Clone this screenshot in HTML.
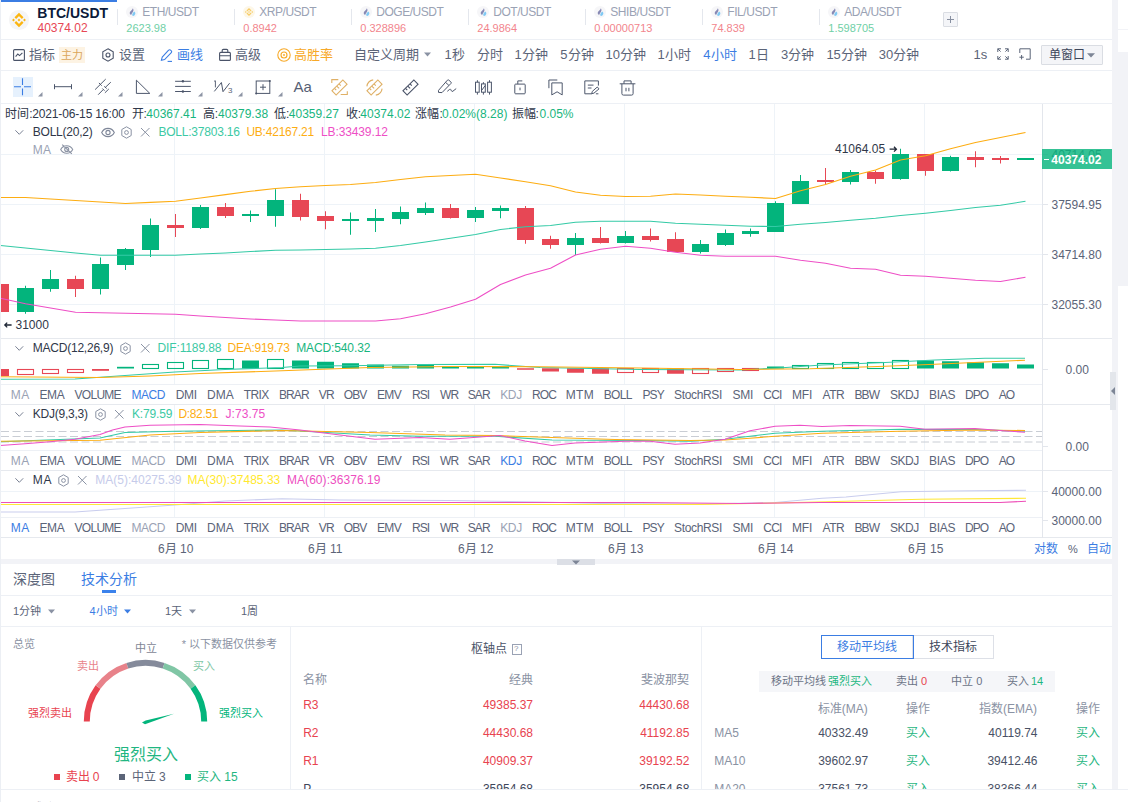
<!DOCTYPE html>
<html lang="zh-CN">
<head>
<meta charset="utf-8">
<title>BTC/USDT</title>
<style>
html,body{margin:0;padding:0;}
body{width:1128px;height:802px;overflow:hidden;position:relative;background:#f2f3f7;font-family:"Liberation Sans",sans-serif;}
.t{position:absolute;white-space:nowrap;}
.r{position:absolute;}
.i{position:absolute;overflow:visible;}
svg{display:block;}
</style>
</head>
<body>
<div class="r" style="left:0px;top:0px;width:1112px;height:559px;background:#fff;"></div>
<div class="r" style="left:0px;top:564px;width:1112px;height:225px;background:#fff;"></div>
<div class="r" style="left:0px;top:792px;width:1112px;height:10px;background:#fff;"></div>
<div class="r" style="left:0px;top:0px;width:1px;height:802px;background:#eceff4;"></div>
<div class="r" style="left:1118px;top:0px;width:10px;height:29px;background:#fff;"></div>
<div class="r" style="left:1118px;top:30px;width:10px;height:22px;background:#fff;"></div>
<div class="r" style="left:1118px;top:286px;width:10px;height:516px;background:#fff;"></div>
<svg class="i" style="left:0px;top:0px;" width="1112" height="559" viewBox="0 0 1112 559"><rect x="174" y="104" width="1" height="434" fill="#eef3f8"/><rect x="324" y="104" width="1" height="434" fill="#eef3f8"/><rect x="474" y="104" width="1" height="434" fill="#eef3f8"/><rect x="624" y="104" width="1" height="434" fill="#eef3f8"/><rect x="774" y="104" width="1" height="434" fill="#eef3f8"/><rect x="924" y="104" width="1" height="434" fill="#eef3f8"/><rect x="1" y="154" width="1047" height="1" fill="#eef3f8"/><rect x="1" y="204" width="1047" height="1" fill="#eef3f8"/><rect x="1" y="254" width="1047" height="1" fill="#eef3f8"/><rect x="1" y="304" width="1047" height="1" fill="#eef3f8"/><rect x="1" y="491" width="1047" height="1" fill="#eef3f8"/><rect x="1042" y="104" width="1" height="434" fill="#e3e6ec"/><rect x="0" y="284.25" width="1" height="27.75" fill="#e74755"/><rect x="-8" y="284" width="17" height="28" fill="#e74755"/><rect x="25" y="285.75" width="1" height="28.0" fill="#03b47c"/><rect x="17" y="288" width="17" height="24" fill="#03b47c"/><rect x="50" y="270" width="1" height="21.75" fill="#03b47c"/><rect x="42" y="279" width="17" height="10" fill="#03b47c"/><rect x="75" y="275.75" width="1" height="21.25" fill="#e74755"/><rect x="67" y="279" width="17" height="10" fill="#e74755"/><rect x="100" y="257.5" width="1" height="37.0" fill="#03b47c"/><rect x="92" y="264" width="17" height="25" fill="#03b47c"/><rect x="125" y="248" width="1" height="22" fill="#03b47c"/><rect x="117" y="249" width="17" height="16" fill="#03b47c"/><rect x="150" y="218.5" width="1" height="38.5" fill="#03b47c"/><rect x="142" y="225" width="17" height="25" fill="#03b47c"/><rect x="175" y="214" width="1" height="23" fill="#e74755"/><rect x="167" y="225" width="17" height="3" fill="#e74755"/><rect x="200" y="205" width="1" height="24" fill="#03b47c"/><rect x="192" y="207" width="17" height="21" fill="#03b47c"/><rect x="225" y="203" width="1" height="15" fill="#e74755"/><rect x="217" y="207" width="17" height="9" fill="#e74755"/><rect x="250" y="210.5" width="1" height="11.5" fill="#03b47c"/><rect x="242" y="214" width="17" height="2" fill="#03b47c"/><rect x="275" y="189.25" width="1" height="37.5" fill="#03b47c"/><rect x="267" y="200" width="17" height="16" fill="#03b47c"/><rect x="300" y="193.75" width="1" height="26.75" fill="#e74755"/><rect x="292" y="200" width="17" height="17" fill="#e74755"/><rect x="325" y="211.25" width="1" height="18.0" fill="#e74755"/><rect x="317" y="216" width="17" height="5" fill="#e74755"/><rect x="350" y="212.5" width="1" height="22.25" fill="#03b47c"/><rect x="342" y="219" width="17" height="2" fill="#03b47c"/><rect x="375" y="209" width="1" height="23" fill="#03b47c"/><rect x="367" y="218" width="17" height="3" fill="#03b47c"/><rect x="400" y="206.5" width="1" height="17.75" fill="#03b47c"/><rect x="392" y="212" width="17" height="7" fill="#03b47c"/><rect x="425" y="202.5" width="1" height="12.5" fill="#03b47c"/><rect x="417" y="208" width="17" height="5" fill="#03b47c"/><rect x="450" y="204" width="1" height="14.5" fill="#e74755"/><rect x="442" y="208" width="17" height="10" fill="#e74755"/><rect x="475" y="207" width="1" height="15" fill="#03b47c"/><rect x="467" y="210" width="17" height="8" fill="#03b47c"/><rect x="500" y="205.5" width="1" height="12.75" fill="#03b47c"/><rect x="492" y="208" width="17" height="3" fill="#03b47c"/><rect x="525" y="206" width="1" height="37.75" fill="#e74755"/><rect x="517" y="208" width="17" height="32" fill="#e74755"/><rect x="550" y="235.75" width="1" height="13.0" fill="#e74755"/><rect x="542" y="239" width="17" height="6" fill="#e74755"/><rect x="575" y="233" width="1" height="22" fill="#03b47c"/><rect x="567" y="238" width="17" height="7" fill="#03b47c"/><rect x="600" y="227" width="1" height="16.5" fill="#e74755"/><rect x="592" y="238" width="17" height="5" fill="#e74755"/><rect x="625" y="231" width="1" height="12.5" fill="#03b47c"/><rect x="617" y="236" width="17" height="7" fill="#03b47c"/><rect x="650" y="228.5" width="1" height="13.0" fill="#e74755"/><rect x="642" y="236" width="17" height="4" fill="#e74755"/><rect x="675" y="232.25" width="1" height="19.75" fill="#e74755"/><rect x="667" y="239" width="17" height="13" fill="#e74755"/><rect x="700" y="240" width="1" height="13.5" fill="#03b47c"/><rect x="692" y="244" width="17" height="8" fill="#03b47c"/><rect x="725" y="229.5" width="1" height="16.5" fill="#03b47c"/><rect x="717" y="233" width="17" height="12" fill="#03b47c"/><rect x="750" y="228.5" width="1" height="8.25" fill="#03b47c"/><rect x="742" y="231" width="17" height="3" fill="#03b47c"/><rect x="775" y="201.25" width="1" height="30.75" fill="#03b47c"/><rect x="767" y="203" width="17" height="29" fill="#03b47c"/><rect x="800" y="175" width="1" height="29" fill="#03b47c"/><rect x="792" y="181" width="17" height="23" fill="#03b47c"/><rect x="825" y="168" width="1" height="16.5" fill="#e74755"/><rect x="817" y="180" width="17" height="2" fill="#e74755"/><rect x="850" y="170" width="1" height="14.5" fill="#03b47c"/><rect x="842" y="172" width="17" height="10" fill="#03b47c"/><rect x="875" y="170.5" width="1" height="13.25" fill="#e74755"/><rect x="867" y="172" width="17" height="7" fill="#e74755"/><rect x="900" y="148.75" width="1" height="31.0" fill="#03b47c"/><rect x="892" y="154" width="17" height="25" fill="#03b47c"/><rect x="925" y="154" width="1" height="21.75" fill="#e74755"/><rect x="917" y="154" width="17" height="17" fill="#e74755"/><rect x="950" y="155.75" width="1" height="15.75" fill="#03b47c"/><rect x="942" y="157" width="17" height="14" fill="#03b47c"/><rect x="975" y="151.25" width="1" height="16.0" fill="#e74755"/><rect x="967" y="157" width="17" height="3" fill="#e74755"/><rect x="1000" y="156" width="1" height="7.5" fill="#e74755"/><rect x="992" y="158" width="17" height="2" fill="#e74755"/><rect x="1025" y="158" width="1" height="2" fill="#03b47c"/><rect x="1017" y="158" width="17" height="2" fill="#03b47c"/><polyline points="0.5,197.50 25.5,197.50 50.5,199.00 75.5,200.50 100.5,202.00 125.5,203.50 150.5,202.40 175.5,201.25 200.5,198.00 225.5,194.60 250.5,191.30 275.5,188.50 300.5,186.75 325.5,185.50 350.5,184.50 375.5,182.50 400.5,179.50 425.5,176.75 450.5,175.50 475.5,174.25 500.5,178.00 525.5,181.75 550.5,185.75 575.5,192.00 600.5,195.25 625.5,196.50 650.5,196.25 675.5,194.00 700.5,195.00 725.5,196.25 750.5,197.25 775.5,198.50 800.5,190.75 825.5,184.50 850.5,176.25 875.5,170.00 900.5,160.00 925.5,155.75 950.5,148.75 975.5,142.50 1000.5,137.50 1025.5,132.50" fill="none" stroke="#fdad12" stroke-width="1.1" stroke-linejoin="round" opacity="1"/><polyline points="0.5,245.50 25.5,248.00 50.5,250.50 75.5,253.00 100.5,255.25 125.5,255.25 150.5,255.25 175.5,255.25 200.5,254.00 225.5,253.00 250.5,251.50 275.5,250.25 300.5,250.00 325.5,249.50 350.5,249.00 375.5,248.25 400.5,245.50 425.5,242.00 450.5,238.25 475.5,234.50 500.5,229.50 525.5,226.75 550.5,225.50 575.5,222.25 600.5,221.25 625.5,221.25 650.5,221.25 675.5,223.25 700.5,224.25 725.5,225.25 750.5,226.25 775.5,226.50 800.5,224.25 825.5,222.50 850.5,220.25 875.5,218.25 900.5,215.50 925.5,213.25 950.5,210.50 975.5,207.50 1000.5,205.25 1025.5,201.25" fill="none" stroke="#34caa6" stroke-width="1.1" stroke-linejoin="round" opacity="1"/><polyline points="0.5,298.25 25.5,303.75 50.5,308.00 75.5,312.25 100.5,312.75 125.5,313.25 150.5,313.75 175.5,314.25 200.5,316.00 225.5,317.50 250.5,319.00 275.5,320.00 300.5,321.00 325.5,321.00 350.5,321.00 375.5,321.00 400.5,318.75 425.5,313.75 450.5,307.00 475.5,299.25 500.5,284.50 525.5,275.00 550.5,268.25 575.5,255.00 600.5,249.25 625.5,246.25 650.5,248.25 675.5,252.25 700.5,255.25 725.5,256.25 750.5,256.25 775.5,256.25 800.5,260.25 825.5,263.25 850.5,268.25 875.5,269.25 900.5,275.25 925.5,276.25 950.5,278.25 975.5,280.25 1000.5,281.50 1025.5,277.25" fill="none" stroke="#ee4fc6" stroke-width="1.1" stroke-linejoin="round" opacity="1"/><rect x="-8" y="369" width="17" height="7" fill="#e74755"/><rect x="17.5" y="369.5" width="16" height="5" fill="none" stroke="#e74755" stroke-width="1.1"/><rect x="42.5" y="369.5" width="16" height="4" fill="none" stroke="#e74755" stroke-width="1.1"/><rect x="67.5" y="369.5" width="16" height="3" fill="none" stroke="#e74755" stroke-width="1.1"/><rect x="92" y="369" width="17" height="1.8000000000000114" fill="#e74755"/><rect x="117" y="366.8" width="17" height="1.6999999999999886" fill="#03b47c"/><rect x="142.5" y="364.5" width="16" height="4" fill="none" stroke="#03b47c" stroke-width="1.1"/><rect x="167.5" y="362.5" width="16" height="6" fill="none" stroke="#03b47c" stroke-width="1.1"/><rect x="192.5" y="360.5" width="16" height="8" fill="none" stroke="#03b47c" stroke-width="1.1"/><rect x="217.5" y="359.5" width="16" height="9" fill="none" stroke="#03b47c" stroke-width="1.1"/><rect x="242" y="360.5" width="17" height="8.0" fill="#03b47c"/><rect x="267.5" y="359.5" width="16" height="9" fill="none" stroke="#03b47c" stroke-width="1.1"/><rect x="292" y="360.5" width="17" height="8.0" fill="#03b47c"/><rect x="317" y="361.75" width="17" height="6.75" fill="#03b47c"/><rect x="342" y="363.25" width="17" height="5.25" fill="#03b47c"/><rect x="367" y="364.5" width="17" height="4.0" fill="#03b47c"/><rect x="392" y="365.75" width="17" height="2.75" fill="#03b47c"/><rect x="417" y="365" width="17" height="3.5" fill="#03b47c"/><rect x="442" y="366.25" width="17" height="2.25" fill="#03b47c"/><rect x="467" y="366.5" width="17" height="2.0" fill="#03b47c"/><rect x="492" y="367" width="17" height="1.5" fill="#03b47c"/><rect x="517" y="368.25" width="17" height="1.5" fill="#e74755"/><rect x="542" y="368.25" width="17" height="3.25" fill="#e74755"/><rect x="567" y="368.25" width="17" height="4.5" fill="#e74755"/><rect x="592" y="368.25" width="17" height="5.5" fill="#e74755"/><rect x="617.5" y="368.5" width="16" height="4" fill="none" stroke="#e74755" stroke-width="1.1"/><rect x="642.5" y="368.5" width="16" height="4" fill="none" stroke="#e74755" stroke-width="1.1"/><rect x="667" y="368.25" width="17" height="5.5" fill="#e74755"/><rect x="692.5" y="368.5" width="16" height="5" fill="none" stroke="#e74755" stroke-width="1.1"/><rect x="717.5" y="368.5" width="16" height="3" fill="none" stroke="#e74755" stroke-width="1.1"/><rect x="742.5" y="368.5" width="16" height="2" fill="none" stroke="#e74755" stroke-width="1.1"/><rect x="767" y="366.5" width="17" height="2.0" fill="#03b47c"/><rect x="792.5" y="365.5" width="16" height="3" fill="none" stroke="#03b47c" stroke-width="1.1"/><rect x="817.5" y="363.5" width="16" height="5" fill="none" stroke="#03b47c" stroke-width="1.1"/><rect x="842.5" y="362.5" width="16" height="6" fill="none" stroke="#03b47c" stroke-width="1.1"/><rect x="867.5" y="362.5" width="16" height="6" fill="none" stroke="#03b47c" stroke-width="1.1"/><rect x="892.5" y="360.5" width="16" height="8" fill="none" stroke="#03b47c" stroke-width="1.1"/><rect x="917" y="360.5" width="17" height="8.0" fill="#03b47c"/><rect x="942" y="361.25" width="17" height="7.25" fill="#03b47c"/><rect x="967" y="362.25" width="17" height="6.25" fill="#03b47c"/><rect x="992" y="363.25" width="17" height="5.25" fill="#03b47c"/><rect x="1017" y="364.5" width="17" height="4.0" fill="#03b47c"/><polyline points="0.0,379.25 75.0,379.00 125.0,375.50 175.0,372.00 225.0,369.50 282.0,367.50 300.0,366.00 350.0,365.75 420.0,364.50 495.0,364.25 540.0,367.50 640.0,369.50 740.0,370.00 775.0,368.25 822.0,365.00 885.0,362.50 935.0,360.00 985.0,358.25 1025.0,358.25" fill="none" stroke="#34caa6" stroke-width="1.1" stroke-linejoin="round" opacity="1"/><polyline points="0.0,376.75 100.0,377.50 150.0,376.00 200.0,373.50 282.0,370.75 370.0,367.50 450.0,366.50 540.0,366.75 640.0,368.00 740.0,369.50 810.0,368.75 885.0,366.25 935.0,364.25 985.0,362.00 1025.0,360.25" fill="none" stroke="#fdad12" stroke-width="1.1" stroke-linejoin="round" opacity="1"/><line x1="1" y1="431.5" x2="1042" y2="431.5" stroke="#c9cdd4" stroke-width="1" stroke-dasharray="8 3.5"/><line x1="1" y1="436.5" x2="1042" y2="436.5" stroke="#c9cdd4" stroke-width="1" stroke-dasharray="8 3.5"/><line x1="1" y1="442" x2="1042" y2="442" stroke="#c9cdd4" stroke-width="1" stroke-dasharray="8 3.5"/><polyline points="0.0,441.75 100.0,438.00 125.0,432.50 175.0,431.25 282.0,430.00 300.0,431.00 370.0,435.00 420.0,436.25 495.0,436.25 552.0,440.00 640.0,440.50 690.0,441.25 725.0,439.25 750.0,436.25 775.0,433.25 822.0,431.25 900.0,429.25 975.0,429.50 1025.0,431.25" fill="none" stroke="#34caa6" stroke-width="1.1" stroke-linejoin="round" opacity="1"/><polyline points="0.0,441.25 100.0,440.25 150.0,435.00 200.0,432.50 282.0,430.50 370.0,432.50 445.0,435.00 495.0,435.50 552.0,437.50 615.0,439.50 690.0,440.50 725.0,440.00 750.0,438.25 775.0,436.25 822.0,433.25 900.0,431.25 975.0,430.00 1025.0,430.50" fill="none" stroke="#fdad12" stroke-width="1.1" stroke-linejoin="round" opacity="1"/><polyline points="0.0,445.50 25.0,443.75 50.0,441.75 75.0,439.25 100.0,434.50 112.5,430.00 125.0,427.00 150.0,425.25 200.0,424.50 240.0,426.00 270.0,427.00 300.0,430.00 340.0,435.00 375.0,439.25 420.0,437.50 450.0,439.25 500.0,435.50 525.0,441.00 552.0,445.50 575.0,443.00 625.0,441.25 650.0,441.25 675.0,444.25 700.0,443.00 725.0,439.25 750.0,430.75 775.0,426.25 800.0,425.25 822.0,426.50 850.0,425.50 900.0,426.25 925.0,429.25 975.0,428.50 1000.0,430.50 1025.0,432.25" fill="none" stroke="#ee4fc6" stroke-width="1.1" stroke-linejoin="round" opacity="1"/><polyline points="0.0,512.00 75.0,512.00 125.0,508.50 175.0,505.00 225.0,501.00 282.0,498.75 340.0,500.00 450.0,500.50 540.0,502.00 600.0,503.50 700.0,504.00 775.0,502.50 822.0,498.25 846.0,497.00 901.0,491.75 950.0,491.00 1026.0,490.25" fill="none" stroke="#c9cdee" stroke-width="1.1" stroke-linejoin="round" opacity="1"/><polyline points="0.0,504.50 700.0,504.50 775.0,503.00 846.0,501.25 921.0,499.25 1026.0,498.25" fill="none" stroke="#ffe838" stroke-width="1.15" stroke-linejoin="round" opacity="1"/><polyline points="0.0,502.50 640.0,502.50 740.0,503.50 820.0,502.50 1000.0,502.50 1026.0,501.25" fill="none" stroke="#ee4fb8" stroke-width="1.15" stroke-linejoin="round" opacity="1"/><rect x="1043" y="154" width="5" height="1" fill="#e3e6ec"/><rect x="1043" y="204" width="5" height="1" fill="#e3e6ec"/><rect x="1043" y="254" width="5" height="1" fill="#e3e6ec"/><rect x="1043" y="304" width="5" height="1" fill="#e3e6ec"/><rect x="1043" y="369" width="5" height="1" fill="#e3e6ec"/><rect x="1043" y="446" width="5" height="1" fill="#e3e6ec"/><rect x="1043" y="491" width="5" height="1" fill="#e3e6ec"/><rect x="1043" y="520" width="5" height="1" fill="#e3e6ec"/></svg>
<div class="r" style="left:1px;top:338px;width:1111px;height:1px;background:#e6e9ee;"></div>
<div class="r" style="left:1px;top:384px;width:1042px;height:21px;background:#fff;"></div>
<div class="r" style="left:1px;top:384px;width:1042px;height:1px;background:#edf0f5;"></div>
<div class="r" style="left:1px;top:404px;width:1111px;height:1px;background:#e6e9ee;"></div>
<div class="r" style="left:1px;top:450px;width:1042px;height:21px;background:#fff;"></div>
<div class="r" style="left:1px;top:450px;width:1042px;height:1px;background:#edf0f5;"></div>
<div class="r" style="left:1px;top:470px;width:1111px;height:1px;background:#e6e9ee;"></div>
<div class="r" style="left:1px;top:517px;width:1042px;height:21px;background:#fff;"></div>
<div class="r" style="left:1px;top:517px;width:1042px;height:1px;background:#edf0f5;"></div>
<div class="r" style="left:1px;top:537px;width:1111px;height:1px;background:#e6e9ee;"></div>
<div class="r" style="left:1043px;top:385px;width:69px;height:19px;background:#fff;"></div>
<div class="r" style="left:1043px;top:451px;width:69px;height:19px;background:#fff;"></div>
<div class="r" style="left:1042px;top:384px;width:1px;height:154px;background:#e3e6ec;"></div>
<div class="t" style="top:387.00px;height:16px;line-height:16px;font-size:12px;color:#9aa2b4;left:10.75px;letter-spacing:0.40px;">MA</div>
<div class="t" style="top:387.00px;height:16px;line-height:16px;font-size:12px;color:#5b6478;left:39.50px;letter-spacing:-0.43px;">EMA</div>
<div class="t" style="top:387.00px;height:16px;line-height:16px;font-size:12px;color:#5b6478;left:74.50px;letter-spacing:-0.71px;">VOLUME</div>
<div class="t" style="top:387.00px;height:16px;line-height:16px;font-size:12px;color:#3b7de3;left:131.50px;letter-spacing:-0.48px;">MACD</div>
<div class="t" style="top:387.00px;height:16px;line-height:16px;font-size:12px;color:#5b6478;left:175.75px;letter-spacing:-0.30px;">DMI</div>
<div class="t" style="top:387.00px;height:16px;line-height:16px;font-size:12px;color:#5b6478;left:207.00px;">DMA</div>
<div class="t" style="top:387.00px;height:16px;line-height:16px;font-size:12px;color:#5b6478;left:243.75px;letter-spacing:-0.64px;">TRIX</div>
<div class="t" style="top:387.00px;height:16px;line-height:16px;font-size:12px;color:#5b6478;left:279.00px;letter-spacing:-0.90px;">BRAR</div>
<div class="t" style="top:387.00px;height:16px;line-height:16px;font-size:12px;color:#5b6478;left:318.75px;letter-spacing:-0.77px;">VR</div>
<div class="t" style="top:387.00px;height:16px;line-height:16px;font-size:12px;color:#5b6478;left:343.75px;letter-spacing:-0.90px;">OBV</div>
<div class="t" style="top:387.00px;height:16px;line-height:16px;font-size:12px;color:#5b6478;left:377.00px;letter-spacing:-0.68px;">EMV</div>
<div class="t" style="top:387.00px;height:16px;line-height:16px;font-size:12px;color:#5b6478;left:412.00px;letter-spacing:-0.90px;">RSI</div>
<div class="t" style="top:387.00px;height:16px;line-height:16px;font-size:12px;color:#5b6478;left:440.00px;letter-spacing:-0.90px;">WR</div>
<div class="t" style="top:387.00px;height:16px;line-height:16px;font-size:12px;color:#5b6478;left:467.75px;letter-spacing:-0.90px;">SAR</div>
<div class="t" style="top:387.00px;height:16px;line-height:16px;font-size:12px;color:#9aa2b4;left:500.25px;letter-spacing:-0.38px;">KDJ</div>
<div class="t" style="top:387.00px;height:16px;line-height:16px;font-size:12px;color:#5b6478;left:532.00px;letter-spacing:-0.90px;">ROC</div>
<div class="t" style="top:387.00px;height:16px;line-height:16px;font-size:12px;color:#5b6478;left:565.75px;letter-spacing:0.29px;">MTM</div>
<div class="t" style="top:387.00px;height:16px;line-height:16px;font-size:12px;color:#5b6478;left:603.75px;letter-spacing:-0.68px;">BOLL</div>
<div class="t" style="top:387.00px;height:16px;line-height:16px;font-size:12px;color:#5b6478;left:642.50px;letter-spacing:-0.90px;">PSY</div>
<div class="t" style="top:387.00px;height:16px;line-height:16px;font-size:12px;color:#5b6478;left:674.00px;letter-spacing:-0.33px;">StochRSI</div>
<div class="t" style="top:387.00px;height:16px;line-height:16px;font-size:12px;color:#5b6478;left:732.50px;letter-spacing:-0.22px;">SMI</div>
<div class="t" style="top:387.00px;height:16px;line-height:16px;font-size:12px;color:#5b6478;left:763.25px;letter-spacing:-0.76px;">CCI</div>
<div class="t" style="top:387.00px;height:16px;line-height:16px;font-size:12px;color:#5b6478;left:792.00px;letter-spacing:-0.13px;">MFI</div>
<div class="t" style="top:387.00px;height:16px;line-height:16px;font-size:12px;color:#5b6478;left:822.50px;letter-spacing:-0.48px;">ATR</div>
<div class="t" style="top:387.00px;height:16px;line-height:16px;font-size:12px;color:#5b6478;left:854.50px;letter-spacing:-0.90px;">BBW</div>
<div class="t" style="top:387.00px;height:16px;line-height:16px;font-size:12px;color:#5b6478;left:890.00px;letter-spacing:-0.51px;">SKDJ</div>
<div class="t" style="top:387.00px;height:16px;line-height:16px;font-size:12px;color:#5b6478;left:929.00px;letter-spacing:-0.32px;">BIAS</div>
<div class="t" style="top:387.00px;height:16px;line-height:16px;font-size:12px;color:#5b6478;left:965.00px;letter-spacing:-0.90px;">DPO</div>
<div class="t" style="top:387.00px;height:16px;line-height:16px;font-size:12px;color:#5b6478;left:998.75px;letter-spacing:-0.90px;">AO</div>
<div class="t" style="top:453.00px;height:16px;line-height:16px;font-size:12px;color:#9aa2b4;left:10.75px;letter-spacing:0.40px;">MA</div>
<div class="t" style="top:453.00px;height:16px;line-height:16px;font-size:12px;color:#5b6478;left:39.50px;letter-spacing:-0.43px;">EMA</div>
<div class="t" style="top:453.00px;height:16px;line-height:16px;font-size:12px;color:#5b6478;left:74.50px;letter-spacing:-0.71px;">VOLUME</div>
<div class="t" style="top:453.00px;height:16px;line-height:16px;font-size:12px;color:#9aa2b4;left:131.50px;letter-spacing:-0.48px;">MACD</div>
<div class="t" style="top:453.00px;height:16px;line-height:16px;font-size:12px;color:#5b6478;left:175.75px;letter-spacing:-0.30px;">DMI</div>
<div class="t" style="top:453.00px;height:16px;line-height:16px;font-size:12px;color:#5b6478;left:207.00px;">DMA</div>
<div class="t" style="top:453.00px;height:16px;line-height:16px;font-size:12px;color:#5b6478;left:243.75px;letter-spacing:-0.64px;">TRIX</div>
<div class="t" style="top:453.00px;height:16px;line-height:16px;font-size:12px;color:#5b6478;left:279.00px;letter-spacing:-0.90px;">BRAR</div>
<div class="t" style="top:453.00px;height:16px;line-height:16px;font-size:12px;color:#5b6478;left:318.75px;letter-spacing:-0.77px;">VR</div>
<div class="t" style="top:453.00px;height:16px;line-height:16px;font-size:12px;color:#5b6478;left:343.75px;letter-spacing:-0.90px;">OBV</div>
<div class="t" style="top:453.00px;height:16px;line-height:16px;font-size:12px;color:#5b6478;left:377.00px;letter-spacing:-0.68px;">EMV</div>
<div class="t" style="top:453.00px;height:16px;line-height:16px;font-size:12px;color:#5b6478;left:412.00px;letter-spacing:-0.90px;">RSI</div>
<div class="t" style="top:453.00px;height:16px;line-height:16px;font-size:12px;color:#5b6478;left:440.00px;letter-spacing:-0.90px;">WR</div>
<div class="t" style="top:453.00px;height:16px;line-height:16px;font-size:12px;color:#5b6478;left:467.75px;letter-spacing:-0.90px;">SAR</div>
<div class="t" style="top:453.00px;height:16px;line-height:16px;font-size:12px;color:#3b7de3;left:500.25px;letter-spacing:-0.38px;">KDJ</div>
<div class="t" style="top:453.00px;height:16px;line-height:16px;font-size:12px;color:#5b6478;left:532.00px;letter-spacing:-0.90px;">ROC</div>
<div class="t" style="top:453.00px;height:16px;line-height:16px;font-size:12px;color:#5b6478;left:565.75px;letter-spacing:0.29px;">MTM</div>
<div class="t" style="top:453.00px;height:16px;line-height:16px;font-size:12px;color:#5b6478;left:603.75px;letter-spacing:-0.68px;">BOLL</div>
<div class="t" style="top:453.00px;height:16px;line-height:16px;font-size:12px;color:#5b6478;left:642.50px;letter-spacing:-0.90px;">PSY</div>
<div class="t" style="top:453.00px;height:16px;line-height:16px;font-size:12px;color:#5b6478;left:674.00px;letter-spacing:-0.33px;">StochRSI</div>
<div class="t" style="top:453.00px;height:16px;line-height:16px;font-size:12px;color:#5b6478;left:732.50px;letter-spacing:-0.22px;">SMI</div>
<div class="t" style="top:453.00px;height:16px;line-height:16px;font-size:12px;color:#5b6478;left:763.25px;letter-spacing:-0.76px;">CCI</div>
<div class="t" style="top:453.00px;height:16px;line-height:16px;font-size:12px;color:#5b6478;left:792.00px;letter-spacing:-0.13px;">MFI</div>
<div class="t" style="top:453.00px;height:16px;line-height:16px;font-size:12px;color:#5b6478;left:822.50px;letter-spacing:-0.48px;">ATR</div>
<div class="t" style="top:453.00px;height:16px;line-height:16px;font-size:12px;color:#5b6478;left:854.50px;letter-spacing:-0.90px;">BBW</div>
<div class="t" style="top:453.00px;height:16px;line-height:16px;font-size:12px;color:#5b6478;left:890.00px;letter-spacing:-0.51px;">SKDJ</div>
<div class="t" style="top:453.00px;height:16px;line-height:16px;font-size:12px;color:#5b6478;left:929.00px;letter-spacing:-0.32px;">BIAS</div>
<div class="t" style="top:453.00px;height:16px;line-height:16px;font-size:12px;color:#5b6478;left:965.00px;letter-spacing:-0.90px;">DPO</div>
<div class="t" style="top:453.00px;height:16px;line-height:16px;font-size:12px;color:#5b6478;left:998.75px;letter-spacing:-0.90px;">AO</div>
<div class="t" style="top:519.50px;height:16px;line-height:16px;font-size:12px;color:#3b7de3;left:10.75px;letter-spacing:0.40px;">MA</div>
<div class="t" style="top:519.50px;height:16px;line-height:16px;font-size:12px;color:#5b6478;left:39.50px;letter-spacing:-0.43px;">EMA</div>
<div class="t" style="top:519.50px;height:16px;line-height:16px;font-size:12px;color:#5b6478;left:74.50px;letter-spacing:-0.71px;">VOLUME</div>
<div class="t" style="top:519.50px;height:16px;line-height:16px;font-size:12px;color:#9aa2b4;left:131.50px;letter-spacing:-0.48px;">MACD</div>
<div class="t" style="top:519.50px;height:16px;line-height:16px;font-size:12px;color:#5b6478;left:175.75px;letter-spacing:-0.30px;">DMI</div>
<div class="t" style="top:519.50px;height:16px;line-height:16px;font-size:12px;color:#5b6478;left:207.00px;">DMA</div>
<div class="t" style="top:519.50px;height:16px;line-height:16px;font-size:12px;color:#5b6478;left:243.75px;letter-spacing:-0.64px;">TRIX</div>
<div class="t" style="top:519.50px;height:16px;line-height:16px;font-size:12px;color:#5b6478;left:279.00px;letter-spacing:-0.90px;">BRAR</div>
<div class="t" style="top:519.50px;height:16px;line-height:16px;font-size:12px;color:#5b6478;left:318.75px;letter-spacing:-0.77px;">VR</div>
<div class="t" style="top:519.50px;height:16px;line-height:16px;font-size:12px;color:#5b6478;left:343.75px;letter-spacing:-0.90px;">OBV</div>
<div class="t" style="top:519.50px;height:16px;line-height:16px;font-size:12px;color:#5b6478;left:377.00px;letter-spacing:-0.68px;">EMV</div>
<div class="t" style="top:519.50px;height:16px;line-height:16px;font-size:12px;color:#5b6478;left:412.00px;letter-spacing:-0.90px;">RSI</div>
<div class="t" style="top:519.50px;height:16px;line-height:16px;font-size:12px;color:#5b6478;left:440.00px;letter-spacing:-0.90px;">WR</div>
<div class="t" style="top:519.50px;height:16px;line-height:16px;font-size:12px;color:#5b6478;left:467.75px;letter-spacing:-0.90px;">SAR</div>
<div class="t" style="top:519.50px;height:16px;line-height:16px;font-size:12px;color:#9aa2b4;left:500.25px;letter-spacing:-0.38px;">KDJ</div>
<div class="t" style="top:519.50px;height:16px;line-height:16px;font-size:12px;color:#5b6478;left:532.00px;letter-spacing:-0.90px;">ROC</div>
<div class="t" style="top:519.50px;height:16px;line-height:16px;font-size:12px;color:#5b6478;left:565.75px;letter-spacing:0.29px;">MTM</div>
<div class="t" style="top:519.50px;height:16px;line-height:16px;font-size:12px;color:#5b6478;left:603.75px;letter-spacing:-0.68px;">BOLL</div>
<div class="t" style="top:519.50px;height:16px;line-height:16px;font-size:12px;color:#5b6478;left:642.50px;letter-spacing:-0.90px;">PSY</div>
<div class="t" style="top:519.50px;height:16px;line-height:16px;font-size:12px;color:#5b6478;left:674.00px;letter-spacing:-0.33px;">StochRSI</div>
<div class="t" style="top:519.50px;height:16px;line-height:16px;font-size:12px;color:#5b6478;left:732.50px;letter-spacing:-0.22px;">SMI</div>
<div class="t" style="top:519.50px;height:16px;line-height:16px;font-size:12px;color:#5b6478;left:763.25px;letter-spacing:-0.76px;">CCI</div>
<div class="t" style="top:519.50px;height:16px;line-height:16px;font-size:12px;color:#5b6478;left:792.00px;letter-spacing:-0.13px;">MFI</div>
<div class="t" style="top:519.50px;height:16px;line-height:16px;font-size:12px;color:#5b6478;left:822.50px;letter-spacing:-0.48px;">ATR</div>
<div class="t" style="top:519.50px;height:16px;line-height:16px;font-size:12px;color:#5b6478;left:854.50px;letter-spacing:-0.90px;">BBW</div>
<div class="t" style="top:519.50px;height:16px;line-height:16px;font-size:12px;color:#5b6478;left:890.00px;letter-spacing:-0.51px;">SKDJ</div>
<div class="t" style="top:519.50px;height:16px;line-height:16px;font-size:12px;color:#5b6478;left:929.00px;letter-spacing:-0.32px;">BIAS</div>
<div class="t" style="top:519.50px;height:16px;line-height:16px;font-size:12px;color:#5b6478;left:965.00px;letter-spacing:-0.90px;">DPO</div>
<div class="t" style="top:519.50px;height:16px;line-height:16px;font-size:12px;color:#5b6478;left:998.75px;letter-spacing:-0.90px;">AO</div>
<div class="t" style="top:146.50px;height:16px;line-height:16px;font-size:12px;color:#5b6478;left:1051.50px;">40714.05</div>
<div class="t" style="top:196.50px;height:16px;line-height:16px;font-size:12px;color:#5b6478;left:1051.50px;">37594.95</div>
<div class="t" style="top:246.50px;height:16px;line-height:16px;font-size:12px;color:#5b6478;left:1051.50px;">34714.80</div>
<div class="t" style="top:296.50px;height:16px;line-height:16px;font-size:12px;color:#5b6478;left:1051.50px;">32055.30</div>
<div class="r" style="left:1042px;top:149px;width:70px;height:20px;background:rgba(8,180,126,0.82);"></div>
<div class="r" style="left:1044px;top:159px;width:5px;height:1px;background:#fff;"></div>
<div class="t" style="top:151.50px;height:16px;line-height:16px;font-size:12px;color:#fff;left:1051.30px;font-weight:bold;">40374.02</div>
<div class="t" style="top:361.50px;height:16px;line-height:16px;font-size:12px;color:#5b6478;left:1065.50px;">0.00</div>
<div class="t" style="top:438.70px;height:16px;line-height:16px;font-size:12px;color:#5b6478;left:1065.50px;">0.00</div>
<div class="t" style="top:483.70px;height:16px;line-height:16px;font-size:12px;color:#5b6478;left:1051.50px;">40000.00</div>
<div class="t" style="top:512.50px;height:16px;line-height:16px;font-size:12px;color:#5b6478;left:1051.50px;">30000.00</div>
<div class="t" style="top:540.70px;height:16px;line-height:16px;font-size:12px;color:#5b6478;left:158.00px;">6月 10</div>
<div class="t" style="top:540.70px;height:16px;line-height:16px;font-size:12px;color:#5b6478;left:308.00px;">6月 11</div>
<div class="t" style="top:540.70px;height:16px;line-height:16px;font-size:12px;color:#5b6478;left:458.00px;">6月 12</div>
<div class="t" style="top:540.70px;height:16px;line-height:16px;font-size:12px;color:#5b6478;left:608.00px;">6月 13</div>
<div class="t" style="top:540.70px;height:16px;line-height:16px;font-size:12px;color:#5b6478;left:758.00px;">6月 14</div>
<div class="t" style="top:540.70px;height:16px;line-height:16px;font-size:12px;color:#5b6478;left:908.00px;">6月 15</div>
<div class="t" style="top:540.70px;height:16px;line-height:16px;font-size:12px;color:#3b7de3;left:1033.50px;">对数</div>
<div class="t" style="top:540.70px;height:16px;line-height:16px;font-size:11px;color:#5b6478;left:1068.00px;">%</div>
<div class="t" style="top:540.70px;height:16px;line-height:16px;font-size:12px;color:#3b7de3;left:1086.50px;">自动</div>
<div class="t" style="top:140.70px;height:16px;line-height:16px;font-size:12px;color:#2f3749;left:835.00px;">41064.05</div>
<svg class="i" style="left:889px;top:145px;" width="9" height="8" viewBox="0 0 9 8"><path d="M0.6 4.2H7.4M5 1.8L7.4 4.2L5 6.6" fill="none" stroke="#1e2635" stroke-width="1.3"/></svg>
<svg class="i" style="left:4px;top:321px;" width="9" height="8" viewBox="0 0 9 8"><path d="M7.6 4H0.8M3.2 1.6L0.8 4L3.2 6.4" fill="none" stroke="#1e2635" stroke-width="1.3"/></svg>
<div class="t" style="top:316.70px;height:16px;line-height:16px;font-size:12px;color:#2f3749;left:15.50px;">31000</div>
<div class="r" style="left:1110px;top:372px;width:6px;height:38px;background:#e3e6eb;"></div>
<svg class="i" style="left:1110px;top:386px;" width="6" height="10" viewBox="0 0 6 10"><path d="M5 1L1 5L5 9Z" fill="#7d8596"/></svg>
<div class="r" style="left:557px;top:559px;width:38px;height:6px;background:#dcdfe6;"></div>
<svg class="i" style="left:571px;top:560px;" width="10" height="5" viewBox="0 0 10 5"><path d="M1 0.5H9L5 4.5Z" fill="#7d8596"/></svg>
<div class="r" style="left:0px;top:0px;width:117px;height:2px;background:#3b7de3;"></div>
<div class="r" style="left:1px;top:39px;width:1111px;height:1px;background:#edf0f5;"></div>
<svg class="i" style="left:8px;top:9px;" width="22" height="22" viewBox="0 0 22 22"><circle cx="11" cy="11" r="10.1" fill="#f5f5f6"/><path d="M7.3 9.1L11 5.4L14.7 9.1M7.3 12.9L11 16.6L14.7 12.9" fill="none" stroke="#fbb511" stroke-width="2.3"/><g fill="#fbb511"><path d="M11 9.6L12.4 11L11 12.4L9.6 11Z"/><path d="M5.5 9.6L6.9 11L5.5 12.4L4.1 11Z"/><path d="M16.5 9.6L17.9 11L16.5 12.4L15.1 11Z"/></g></svg>
<div class="t" style="top:4.00px;height:18px;line-height:18px;font-size:14px;color:#0b1a3a;left:37.30px;font-weight:bold;">BTC/USDT</div>
<div class="t" style="top:20.00px;height:16px;line-height:16px;font-size:12px;color:#e74755;left:37.50px;">40374.02</div>
<div class="r" style="left:117px;top:9px;width:1px;height:16px;background:#e4e7ed;"></div>
<svg class="i" style="left:125.5px;top:6px;" width="12" height="12" viewBox="0 0 12 12"><circle cx="6" cy="6" r="6" fill="#f6f6f8"/><path d="M6.9 2.3C7.9 4 7.5 5.4 6.5 6.6C5.9 7.4 5.5 8 5.1 9C3.5 8.2 3.3 6.8 4.3 5.6C5.3 4.6 6.4 3.8 6.9 2.3Z" fill="#8789b4"/><path d="M8.3 5.5C9.9 6.8 9.7 9.1 7 10.1C5.5 9.4 6.3 7.2 8.3 5.5Z" fill="#7fc9f4"/></svg>
<div class="t" style="top:4.00px;height:16px;line-height:16px;font-size:12px;color:#9aa2b4;left:142.30px;letter-spacing:-0.47px;">ETH/USDT</div>
<div class="t" style="top:20.00px;height:16px;line-height:16px;font-size:11px;color:#6fd0a6;left:126.30px;">2623.98</div>
<div class="r" style="left:234px;top:9px;width:1px;height:16px;background:#e4e7ed;"></div>
<svg class="i" style="left:242.5px;top:6px;" width="12" height="12" viewBox="0 0 12 12"><circle cx="6" cy="6" r="6" fill="#fdf7e8"/><path d="M3.9 5L6 2.9L8.1 5M3.9 7L6 9.1L8.1 7" fill="none" stroke="#f7cd6a" stroke-width="1.2"/><g fill="#f7cd6a"><path d="M6 5.1L6.9 6L6 6.9L5.1 6Z"/><path d="M2.8 5.1L3.7 6L2.8 6.9L1.9 6Z"/><path d="M9.2 5.1L10.1 6L9.2 6.9L8.3 6Z"/></g></svg>
<div class="t" style="top:4.00px;height:16px;line-height:16px;font-size:12px;color:#9aa2b4;left:259.30px;letter-spacing:-0.48px;">XRP/USDT</div>
<div class="t" style="top:20.00px;height:16px;line-height:16px;font-size:11px;color:#f2858d;left:243.30px;">0.8942</div>
<div class="r" style="left:351px;top:9px;width:1px;height:16px;background:#e4e7ed;"></div>
<svg class="i" style="left:359.5px;top:6px;" width="12" height="12" viewBox="0 0 12 12"><circle cx="6" cy="6" r="6" fill="#f6f6f8"/><path d="M6.9 2.3C7.9 4 7.5 5.4 6.5 6.6C5.9 7.4 5.5 8 5.1 9C3.5 8.2 3.3 6.8 4.3 5.6C5.3 4.6 6.4 3.8 6.9 2.3Z" fill="#8789b4"/><path d="M8.3 5.5C9.9 6.8 9.7 9.1 7 10.1C5.5 9.4 6.3 7.2 8.3 5.5Z" fill="#7fc9f4"/></svg>
<div class="t" style="top:4.00px;height:16px;line-height:16px;font-size:12px;color:#9aa2b4;left:376.30px;letter-spacing:-0.49px;">DOGE/USDT</div>
<div class="t" style="top:20.00px;height:16px;line-height:16px;font-size:11px;color:#f2858d;left:360.30px;">0.328896</div>
<div class="r" style="left:468px;top:9px;width:1px;height:16px;background:#e4e7ed;"></div>
<svg class="i" style="left:476.5px;top:6px;" width="12" height="12" viewBox="0 0 12 12"><circle cx="6" cy="6" r="6" fill="#f6f6f8"/><path d="M6.9 2.3C7.9 4 7.5 5.4 6.5 6.6C5.9 7.4 5.5 8 5.1 9C3.5 8.2 3.3 6.8 4.3 5.6C5.3 4.6 6.4 3.8 6.9 2.3Z" fill="#8789b4"/><path d="M8.3 5.5C9.9 6.8 9.7 9.1 7 10.1C5.5 9.4 6.3 7.2 8.3 5.5Z" fill="#7fc9f4"/></svg>
<div class="t" style="top:4.00px;height:16px;line-height:16px;font-size:12px;color:#9aa2b4;left:493.30px;letter-spacing:-0.48px;">DOT/USDT</div>
<div class="t" style="top:20.00px;height:16px;line-height:16px;font-size:11px;color:#f2858d;left:477.30px;">24.9864</div>
<div class="r" style="left:585px;top:9px;width:1px;height:16px;background:#e4e7ed;"></div>
<svg class="i" style="left:593.5px;top:6px;" width="12" height="12" viewBox="0 0 12 12"><circle cx="6" cy="6" r="6" fill="#f6f6f8"/><path d="M6.9 2.3C7.9 4 7.5 5.4 6.5 6.6C5.9 7.4 5.5 8 5.1 9C3.5 8.2 3.3 6.8 4.3 5.6C5.3 4.6 6.4 3.8 6.9 2.3Z" fill="#8789b4"/><path d="M8.3 5.5C9.9 6.8 9.7 9.1 7 10.1C5.5 9.4 6.3 7.2 8.3 5.5Z" fill="#7fc9f4"/></svg>
<div class="t" style="top:4.00px;height:16px;line-height:16px;font-size:12px;color:#9aa2b4;left:610.30px;letter-spacing:-0.44px;">SHIB/USDT</div>
<div class="t" style="top:20.00px;height:16px;line-height:16px;font-size:11px;color:#f2858d;left:594.30px;">0.00000713</div>
<div class="r" style="left:702px;top:9px;width:1px;height:16px;background:#e4e7ed;"></div>
<svg class="i" style="left:710.5px;top:6px;" width="12" height="12" viewBox="0 0 12 12"><circle cx="6" cy="6" r="6" fill="#f6f6f8"/><path d="M6.9 2.3C7.9 4 7.5 5.4 6.5 6.6C5.9 7.4 5.5 8 5.1 9C3.5 8.2 3.3 6.8 4.3 5.6C5.3 4.6 6.4 3.8 6.9 2.3Z" fill="#8789b4"/><path d="M8.3 5.5C9.9 6.8 9.7 9.1 7 10.1C5.5 9.4 6.3 7.2 8.3 5.5Z" fill="#7fc9f4"/></svg>
<div class="t" style="top:4.00px;height:16px;line-height:16px;font-size:12px;color:#9aa2b4;left:727.30px;letter-spacing:-0.42px;">FIL/USDT</div>
<div class="t" style="top:20.00px;height:16px;line-height:16px;font-size:11px;color:#f2858d;left:711.30px;">74.839</div>
<div class="r" style="left:819px;top:9px;width:1px;height:16px;background:#e4e7ed;"></div>
<svg class="i" style="left:827.5px;top:6px;" width="12" height="12" viewBox="0 0 12 12"><circle cx="6" cy="6" r="6" fill="#f6f6f8"/><path d="M6.9 2.3C7.9 4 7.5 5.4 6.5 6.6C5.9 7.4 5.5 8 5.1 9C3.5 8.2 3.3 6.8 4.3 5.6C5.3 4.6 6.4 3.8 6.9 2.3Z" fill="#8789b4"/><path d="M8.3 5.5C9.9 6.8 9.7 9.1 7 10.1C5.5 9.4 6.3 7.2 8.3 5.5Z" fill="#7fc9f4"/></svg>
<div class="t" style="top:4.00px;height:16px;line-height:16px;font-size:12px;color:#9aa2b4;left:844.30px;letter-spacing:-0.48px;">ADA/USDT</div>
<div class="t" style="top:20.00px;height:16px;line-height:16px;font-size:11px;color:#6fd0a6;left:828.30px;">1.598705</div>
<div class="r" style="left:943px;top:12px;width:13px;height:13px;border:1px solid #dadde3;background:#f4f5f8;border-radius:1px;"></div>
<svg class="i" style="left:946px;top:15px;" width="9" height="9" viewBox="0 0 9 9"><path d="M4.5 1V8M1 4.5H8" stroke="#8890a1" stroke-width="1" fill="none"/></svg>
<div class="r" style="left:1px;top:70px;width:1111px;height:1px;background:#edf0f5;"></div>
<svg class="i" style="left:13px;top:49px;" width="12" height="12" viewBox="0 0 12 12"><rect x="0.6" y="0.6" width="10.8" height="10.8" rx="1" fill="none" stroke="#4a5368" stroke-width="1.1"/><path d="M2.6 7.6L4.8 5L6.6 6.6L9.4 3.8" fill="none" stroke="#4a5368" stroke-width="1.1"/></svg>
<div class="t" style="top:45.60px;height:18px;line-height:18px;font-size:13px;color:#5b6478;left:29.30px;">指标</div>
<div class="r" style="left:59px;top:47px;width:26px;height:15.5px;background:#fdf3e3;"></div>
<div class="t" style="top:46.60px;height:16px;line-height:16px;font-size:11px;color:#dba65a;left:61.00px;">主力</div>
<svg class="i" style="left:102px;top:48px;" width="12" height="14" viewBox="0 0 12 14"><path d="M6 0.8L11.2 3.8V10.2L6 13.2L0.8 10.2V3.8Z" fill="none" stroke="#4a5368" stroke-width="1.1"/><circle cx="6" cy="7" r="2" fill="none" stroke="#4a5368" stroke-width="1.1"/></svg>
<div class="t" style="top:45.60px;height:18px;line-height:18px;font-size:13px;color:#5b6478;left:119.00px;">设置</div>
<svg class="i" style="left:160px;top:48px;" width="13" height="14" viewBox="0 0 13 14"><path d="M2.2 9.2L8.6 2.2A1.3 1.3 0 0 1 10.6 2.2L11.3 2.9A1.3 1.3 0 0 1 11.3 4.7L4.6 11.6L1.4 12.2Z" fill="none" stroke="#3b7de3" stroke-width="1.1"/><path d="M7.6 13.4H12" stroke="#3b7de3" stroke-width="1.1"/></svg>
<div class="t" style="top:45.60px;height:18px;line-height:18px;font-size:13px;color:#3b7de3;left:177.30px;">画线</div>
<svg class="i" style="left:219px;top:48px;" width="12" height="13" viewBox="0 0 12 13"><rect x="0.6" y="4.4" width="10.8" height="8" rx="1" fill="none" stroke="#4a5368" stroke-width="1.1"/><path d="M3.2 4.4V2.6A1.2 1.2 0 0 1 4.4 1.4H7.6A1.2 1.2 0 0 1 8.8 2.6V4.4M0.6 7.8H11.4" fill="none" stroke="#4a5368" stroke-width="1.1"/></svg>
<div class="t" style="top:45.60px;height:18px;line-height:18px;font-size:13px;color:#5b6478;left:235.00px;">高级</div>
<svg class="i" style="left:277px;top:48px;" width="14" height="14" viewBox="0 0 14 14"><circle cx="7" cy="7" r="6.2" fill="none" stroke="#f7a928" stroke-width="1.1"/><circle cx="7" cy="7" r="3" fill="none" stroke="#f7a928" stroke-width="1.1"/><circle cx="7" cy="7" r="0.9" fill="#f7a928"/></svg>
<div class="t" style="top:45.60px;height:18px;line-height:18px;font-size:13px;color:#f7a928;left:294.00px;">高胜率</div>
<div class="t" style="top:45.60px;height:18px;line-height:18px;font-size:13px;color:#5b6478;left:353.50px;">自定义周期</div>
<svg class="i" style="left:424px;top:52px;" width="7" height="5" viewBox="0 0 7 5"><path d="M0 0.5H7L3.5 4.5Z" fill="#8a92a3"/></svg>
<div class="t" style="top:45.60px;height:18px;line-height:18px;font-size:13px;color:#5b6478;left:444.50px;">1秒</div>
<div class="t" style="top:45.60px;height:18px;line-height:18px;font-size:13px;color:#5b6478;left:476.50px;">分时</div>
<div class="t" style="top:45.60px;height:18px;line-height:18px;font-size:13px;color:#5b6478;left:514.50px;">1分钟</div>
<div class="t" style="top:45.60px;height:18px;line-height:18px;font-size:13px;color:#5b6478;left:560.30px;">5分钟</div>
<div class="t" style="top:45.60px;height:18px;line-height:18px;font-size:13px;color:#5b6478;left:605.50px;">10分钟</div>
<div class="t" style="top:45.60px;height:18px;line-height:18px;font-size:13px;color:#5b6478;left:657.40px;">1小时</div>
<div class="t" style="top:45.60px;height:18px;line-height:18px;font-size:13px;color:#3b7de3;left:703.30px;">4小时</div>
<div class="t" style="top:45.60px;height:18px;line-height:18px;font-size:13px;color:#5b6478;left:748.50px;">1日</div>
<div class="t" style="top:45.60px;height:18px;line-height:18px;font-size:13px;color:#5b6478;left:781.00px;">3分钟</div>
<div class="t" style="top:45.60px;height:18px;line-height:18px;font-size:13px;color:#5b6478;left:826.40px;">15分钟</div>
<div class="t" style="top:45.60px;height:18px;line-height:18px;font-size:13px;color:#5b6478;left:878.80px;">30分钟</div>
<div class="t" style="top:45.60px;height:18px;line-height:18px;font-size:13px;color:#5b6478;left:973.60px;">1s</div>
<svg class="i" style="left:997px;top:48px;" width="12" height="12" viewBox="0 0 12 12"><path d="M0.8 4V0.8H4M8 0.8H11.2V4M11.2 8V11.2H8M4 11.2H0.8V8M0.8 0.8L3.6 3.6M11.2 0.8L8.4 3.6M11.2 11.2L8.4 8.4M0.8 11.2L3.6 8.4" fill="none" stroke="#5b6478" stroke-width="1"/></svg>
<svg class="i" style="left:1019px;top:48px;" width="12" height="12" viewBox="0 0 12 12"><path d="M0.8 5V0.8H11.2V11.2H7M0.4 9.2H4.8M2.6 7V11.4" fill="none" stroke="#5b6478" stroke-width="1"/></svg>
<div class="r" style="left:1041px;top:45px;width:60px;height:18px;border:1px solid #dadde3;background:#f4f5f8;border-radius:1px;"></div>
<div class="t" style="top:46.80px;height:16px;line-height:16px;font-size:12px;color:#3d465a;left:1049.00px;">单窗口</div>
<svg class="i" style="left:1087px;top:52.7px;" width="8" height="5" viewBox="0 0 8 5"><path d="M0 0.2H8L4 4.4Z" fill="#7d8596"/></svg>
<div class="r" style="left:1px;top:103px;width:1111px;height:1px;background:#edf0f5;"></div>
<div class="r" style="left:13px;top:77px;width:20px;height:20px;background:#e6f1fd;"></div>
<svg class="i" style="left:13px;top:77px;" width="20" height="20" viewBox="0 0 20 20"><path d="M9.5 1.2V8M9.5 11.4V18.2M1 9.7H8M11 9.7H18" stroke="#3b7de3" stroke-width="1.1" fill="none"/></svg>
<svg class="i" style="left:37.5px;top:92.3px;" width="4.5" height="4.5" viewBox="0 0 4.5 4.5"><path d="M4.5 0V4.5H0Z" fill="#8e95a5"/></svg>
<svg class="i" style="left:77.5px;top:92.3px;" width="4.5" height="4.5" viewBox="0 0 4.5 4.5"><path d="M4.5 0V4.5H0Z" fill="#8e95a5"/></svg>
<svg class="i" style="left:117.5px;top:92.3px;" width="4.5" height="4.5" viewBox="0 0 4.5 4.5"><path d="M4.5 0V4.5H0Z" fill="#8e95a5"/></svg>
<svg class="i" style="left:157.5px;top:92.3px;" width="4.5" height="4.5" viewBox="0 0 4.5 4.5"><path d="M4.5 0V4.5H0Z" fill="#8e95a5"/></svg>
<svg class="i" style="left:197.5px;top:92.3px;" width="4.5" height="4.5" viewBox="0 0 4.5 4.5"><path d="M4.5 0V4.5H0Z" fill="#8e95a5"/></svg>
<svg class="i" style="left:237.5px;top:92.3px;" width="4.5" height="4.5" viewBox="0 0 4.5 4.5"><path d="M4.5 0V4.5H0Z" fill="#8e95a5"/></svg>
<svg class="i" style="left:277.5px;top:92.3px;" width="4.5" height="4.5" viewBox="0 0 4.5 4.5"><path d="M4.5 0V4.5H0Z" fill="#8e95a5"/></svg>
<svg class="i" style="left:53px;top:80px;" width="20" height="14" viewBox="0 0 20 14"><path d="M1 6.7H19M1.5 4.2V9.2M18.5 4.2V9.2" fill="none" stroke="#4d576c" stroke-width="1"/></svg>
<svg class="i" style="left:94px;top:78px;" width="18" height="18" viewBox="0 0 18 18"><path d="M1.1 11.6L11.7 1.1M4.9 4.9L7.7 7.7M4.2 16.7L9.1 11.7M8.4 10.5L10.5 12.7M10.2 8.4L12.7 10.5M11.2 9.5L16.8 4.2M10.9 14.8L14.8 11" fill="none" stroke="#4d576c" stroke-width="1"/></svg>
<svg class="i" style="left:135px;top:79px;" width="16" height="16" viewBox="0 0 16 16"><path d="M1.4 1.2V14.4H14.8Z" fill="none" stroke="#4d576c" stroke-width="1" stroke-linejoin="round"/></svg>
<svg class="i" style="left:174px;top:79px;" width="18" height="16" viewBox="0 0 18 16"><path d="M1.1 2.3H16.8M1.1 7.4H16.8M1.1 12.5H16.8" fill="none" stroke="#4d576c" stroke-width="1"/><circle cx="8.9" cy="2.3" r="1.2" fill="#4a5368"/><circle cx="8.9" cy="12.5" r="1.2" fill="#4a5368"/></svg>
<svg class="i" style="left:213px;top:79px;" width="20" height="16" viewBox="0 0 20 16"><path d="M1.3 12.4L8.4 3.5L10 12.7L16.6 4.2" fill="none" stroke="#4d576c" stroke-width="1" stroke-linejoin="round"/><path d="M1.1 2.2L2.4 1.8V8.4" fill="none" stroke="#4a5368" stroke-width="0.9"/></svg>
<div class="t" style="top:86.00px;height:10px;line-height:10px;font-size:8px;color:#5b6478;left:228.00px;">3</div>
<svg class="i" style="left:255px;top:79px;" width="16" height="16" viewBox="0 0 16 16"><rect x="1.2" y="2" width="13.6" height="12.4" fill="none" stroke="#4d576c" stroke-width="1"/><path d="M8 5.2V11.2M5 8.2H11" fill="none" stroke="#4d576c" stroke-width="1"/><circle cx="14.8" cy="2" r="1" fill="#4a5368"/><circle cx="1.2" cy="14.4" r="1" fill="#4a5368"/></svg>
<div class="t" style="top:76.60px;height:20px;line-height:20px;font-size:15px;color:#566074;left:293.40px;">Aa</div>
<svg class="i" style="left:330.5px;top:78.9px;" width="17" height="17" viewBox="0 0 17 17"><g transform="rotate(-45 8.5 8.5)" fill="none" stroke="#dfb066" stroke-width="1.1"><rect x="0.8" y="5.55" width="15.4" height="5.9"/><path d="M4.4 5.55V8M7.6 5.55V8.9M10.8 5.55V8"/></g><path d="M0.8 4V0.6H7.3M9.7 15.5H16.3V12.2" fill="none" stroke="#dfb066" stroke-width="1.1"/></svg>
<svg class="i" style="left:366px;top:78.6px;" width="17" height="17" viewBox="0 0 17 17"><g transform="rotate(-45 8.5 8.5)" fill="none" stroke="#dfb066" stroke-width="1.1"><rect x="0.8" y="5.55" width="15.4" height="5.9"/><path d="M4.4 5.55V8M7.6 5.55V8.9M10.8 5.55V8"/></g><path d="M0.9 7.4A7.6 7.6 0 0 1 7.2 0.9M16.1 9.6A7.6 7.6 0 0 1 9.8 16.1" fill="none" stroke="#dfb066" stroke-width="1.1"/></svg>
<svg class="i" style="left:402.1px;top:78.6px;" width="17" height="17" viewBox="0 0 17 17"><g transform="rotate(-45 8.5 8.5)" fill="none" stroke="#4a5368" stroke-width="1.1"><rect x="0.8" y="5.55" width="15.4" height="5.9"/><path d="M4.4 5.55V8M7.6 5.55V8.9M10.8 5.55V8"/></g></svg>
<svg class="i" style="left:437px;top:79px;" width="20" height="16" viewBox="0 0 20 16"><path d="M1.5 13.4V11.4L10.4 1.2A1 1 0 0 1 11.8 1.1L13.9 3A1 1 0 0 1 14 4.4L5 13.6ZM8.6 3.4L11.9 6.4" fill="none" stroke="#4d576c" stroke-width="1" stroke-linejoin="round"/><path d="M10.3 12.3L12.6 10.4Q13.5 9.8 14 10.8L14.4 11.9Q14.9 13 15.9 12.2L19.2 9.6" fill="none" stroke="#4d576c" stroke-width="1"/></svg>
<svg class="i" style="left:474px;top:79px;" width="19" height="17" viewBox="0 0 19 17"><rect x="1.5" y="3.2" width="3.7" height="10" fill="none" stroke="#4d576c" stroke-width="1"/><path d="M3.4 1.2V3.2M3.4 13.2V15.6" fill="none" stroke="#4d576c" stroke-width="1"/><rect x="7.5" y="4.9" width="3.8" height="8.3" fill="none" stroke="#4d576c" stroke-width="1"/><path d="M9.4 3.2V4.9M9.4 13.2V15.6M7.5 11.6L11.3 6.4" fill="none" stroke="#4d576c" stroke-width="1"/><rect x="13.6" y="3.2" width="3.8" height="10" fill="none" stroke="#4d576c" stroke-width="1"/><path d="M15.5 1.2V3.2M15.5 13.2V15.6" fill="none" stroke="#4d576c" stroke-width="1"/></svg>
<svg class="i" style="left:513.5px;top:79.5px;" width="13" height="15" viewBox="0 0 13 15"><rect x="0.8" y="4.1" width="10.4" height="9.7" rx="0.8" fill="none" stroke="#4d576c" stroke-width="1"/><path d="M3.8 4.1V0.9H8.3M6 7.6V10.3" fill="none" stroke="#4d576c" stroke-width="1"/></svg>
<svg class="i" style="left:547.5px;top:78.5px;" width="16" height="17" viewBox="0 0 16 17"><path d="M0.9 9.2V1H9.3M3.8 3.9H14.2V15.9L9.1 12.8L3.8 15.9Z" fill="none" stroke="#4d576c" stroke-width="1" stroke-linejoin="miter"/></svg>
<svg class="i" style="left:583.5px;top:79.5px;" width="16" height="15" viewBox="0 0 16 15"><path d="M14.4 5.6V0.9H0.8V13.8H7.9M11.9 13.8H14.4M3.8 5.1H9.5M3.8 8H7.5" fill="none" stroke="#4d576c" stroke-width="1"/><path d="M7.7 13.6L8.3 11.4L13.3 7L15 8.9L9.9 13.2Z" fill="none" stroke="#4d576c" stroke-width="1" stroke-linejoin="round"/></svg>
<svg class="i" style="left:618.5px;top:79.5px;" width="17" height="16" viewBox="0 0 17 16"><path d="M0.7 3.8H16.4M5 3.8V0.9H12.1V3.8M2.9 3.8V13.6A1.5 1.5 0 0 0 4.4 15.1H12.6A1.5 1.5 0 0 0 14.1 13.6V3.8M7 7.8V11.3M9.9 7.8V11.3" fill="none" stroke="#4d576c" stroke-width="1"/></svg>
<div class="t" style="top:106.00px;height:16px;line-height:16px;font-size:12px;color:#2f3749;left:5.30px;">时间:</div>
<div class="t" style="top:106.00px;height:16px;line-height:16px;font-size:12px;color:#2f3749;left:32.20px;letter-spacing:-0.14px;">2021-06-15 16:00</div>
<div class="t" style="top:106.00px;height:16px;line-height:16px;font-size:12px;color:#2f3749;left:131.60px;">开:</div>
<div class="t" style="top:106.00px;height:16px;line-height:16px;font-size:12px;color:#18b57e;left:146.30px;">40367.41</div>
<div class="t" style="top:106.00px;height:16px;line-height:16px;font-size:12px;color:#2f3749;left:202.70px;">高:</div>
<div class="t" style="top:106.00px;height:16px;line-height:16px;font-size:12px;color:#18b57e;left:218.00px;">40379.38</div>
<div class="t" style="top:106.00px;height:16px;line-height:16px;font-size:12px;color:#2f3749;left:274.00px;">低:</div>
<div class="t" style="top:106.00px;height:16px;line-height:16px;font-size:12px;color:#18b57e;left:288.80px;">40359.27</div>
<div class="t" style="top:106.00px;height:16px;line-height:16px;font-size:12px;color:#2f3749;left:345.70px;">收:</div>
<div class="t" style="top:106.00px;height:16px;line-height:16px;font-size:12px;color:#18b57e;left:360.30px;">40374.02</div>
<div class="t" style="top:106.00px;height:16px;line-height:16px;font-size:12px;color:#2f3749;left:415.40px;">涨幅:</div>
<div class="t" style="top:106.00px;height:16px;line-height:16px;font-size:12px;color:#18b57e;left:442.00px;">0.02%(8.28)</div>
<div class="t" style="top:106.00px;height:16px;line-height:16px;font-size:12px;color:#2f3749;left:511.60px;">振幅:</div>
<div class="t" style="top:106.00px;height:16px;line-height:16px;font-size:12px;color:#18b57e;left:539.50px;">0.05%</div>
<svg class="i" style="left:15px;top:129px;" width="10" height="7" viewBox="0 0 10 7"><path d="M0.4 1.3L4.3 5.3L8.2 1.3" fill="none" stroke="#7a8294" stroke-width="1"/></svg>
<div class="t" style="top:124.00px;height:16px;line-height:16px;font-size:12px;color:#2f3749;left:32.80px;letter-spacing:-0.23px;">BOLL(20,2)</div>
<svg class="i" style="left:100.7px;top:127px;" width="14" height="11" viewBox="0 0 14 11"><path d="M0.7 5.5C3.4 0 10.6 0 13.3 5.5C10.6 11 3.4 11 0.7 5.5Z" fill="none" stroke="#7f8799" stroke-width="1.1"/><circle cx="7" cy="5.5" r="2.1" fill="none" stroke="#7f8799" stroke-width="1.1"/></svg>
<svg class="i" style="left:121px;top:125.5px;" width="11" height="13" viewBox="0 0 11 13"><path d="M5.5 0.8L10.2 3.5V9.5L5.5 12.2L0.8 9.5V3.5Z" fill="none" stroke="#8b93a4" stroke-width="1"/><circle cx="5.5" cy="6.5" r="1.9" fill="none" stroke="#8b93a4" stroke-width="1"/></svg>
<svg class="i" style="left:140px;top:127px;" width="10.5" height="10.5" viewBox="0 0 10.5 10.5"><path d="M1 1L9.5 9.5M9.5 1L1 9.5" fill="none" stroke="#8b93a4" stroke-width="1"/></svg>
<div class="t" style="top:124.00px;height:16px;line-height:16px;font-size:12px;color:#3cc9a4;left:158.40px;letter-spacing:-0.21px;">BOLL:37803.16</div>
<div class="t" style="top:124.00px;height:16px;line-height:16px;font-size:12px;color:#fdad12;left:246.40px;letter-spacing:-0.22px;">UB:42167.21</div>
<div class="t" style="top:124.00px;height:16px;line-height:16px;font-size:12px;color:#ee4fc6;left:321.00px;letter-spacing:-0.12px;">LB:33439.12</div>
<div class="t" style="top:141.90px;height:16px;line-height:16px;font-size:12px;color:#9aa2b4;left:32.80px;letter-spacing:0.20px;">MA</div>
<svg class="i" style="left:60.2px;top:143.6px;" width="14" height="11" viewBox="0 0 14 11"><path d="M0.7 5.5C3.2 0.4 10.2 0.4 12.7 5.5C10.2 10.4 3.2 10.4 0.7 5.5ZM2.2 0.6L11.8 9.8" fill="none" stroke="#8b93a4" stroke-width="1.1"/><circle cx="6.7" cy="5.4" r="2" fill="none" stroke="#8b93a4" stroke-width="1.1"/></svg>
<svg class="i" style="left:15px;top:345px;" width="10" height="7" viewBox="0 0 10 7"><path d="M0.4 1.3L4.3 5.3L8.2 1.3" fill="none" stroke="#7a8294" stroke-width="1"/></svg>
<div class="t" style="top:340.00px;height:16px;line-height:16px;font-size:12px;color:#2f3749;left:32.80px;letter-spacing:-0.23px;">MACD(12,26,9)</div>
<svg class="i" style="left:120.3px;top:341.5px;" width="11" height="13" viewBox="0 0 11 13"><path d="M5.5 0.8L10.2 3.5V9.5L5.5 12.2L0.8 9.5V3.5Z" fill="none" stroke="#8b93a4" stroke-width="1"/><circle cx="5.5" cy="6.5" r="1.9" fill="none" stroke="#8b93a4" stroke-width="1"/></svg>
<svg class="i" style="left:140px;top:343px;" width="10.5" height="10.5" viewBox="0 0 10.5 10.5"><path d="M1 1L9.5 9.5M9.5 1L1 9.5" fill="none" stroke="#8b93a4" stroke-width="1"/></svg>
<div class="t" style="top:340.00px;height:16px;line-height:16px;font-size:12px;color:#3cc9a4;left:157.50px;letter-spacing:-0.13px;">DIF:1189.88</div>
<div class="t" style="top:340.00px;height:16px;line-height:16px;font-size:12px;color:#fdad12;left:227.50px;letter-spacing:-0.26px;">DEA:919.73</div>
<div class="t" style="top:340.00px;height:16px;line-height:16px;font-size:12px;color:#18b57e;left:296.20px;letter-spacing:-0.12px;">MACD:540.32</div>
<svg class="i" style="left:15px;top:411.2px;" width="10" height="7" viewBox="0 0 10 7"><path d="M0.4 1.3L4.3 5.3L8.2 1.3" fill="none" stroke="#7a8294" stroke-width="1"/></svg>
<div class="t" style="top:406.20px;height:16px;line-height:16px;font-size:12px;color:#2f3749;left:32.80px;letter-spacing:-0.24px;">KDJ(9,3,3)</div>
<svg class="i" style="left:95px;top:407.7px;" width="11" height="13" viewBox="0 0 11 13"><path d="M5.5 0.8L10.2 3.5V9.5L5.5 12.2L0.8 9.5V3.5Z" fill="none" stroke="#8b93a4" stroke-width="1"/><circle cx="5.5" cy="6.5" r="1.9" fill="none" stroke="#8b93a4" stroke-width="1"/></svg>
<svg class="i" style="left:114px;top:409.2px;" width="10.5" height="10.5" viewBox="0 0 10.5 10.5"><path d="M1 1L9.5 9.5M9.5 1L1 9.5" fill="none" stroke="#8b93a4" stroke-width="1"/></svg>
<div class="t" style="top:406.20px;height:16px;line-height:16px;font-size:12px;color:#3cc9a4;left:132.00px;letter-spacing:-0.16px;">K:79.59</div>
<div class="t" style="top:406.20px;height:16px;line-height:16px;font-size:12px;color:#fdad12;left:178.50px;letter-spacing:-0.35px;">D:82.51</div>
<div class="t" style="top:406.20px;height:16px;line-height:16px;font-size:12px;color:#ee4fc6;left:225.50px;letter-spacing:0.05px;">J:73.75</div>
<svg class="i" style="left:15px;top:477px;" width="10" height="7" viewBox="0 0 10 7"><path d="M0.4 1.3L4.3 5.3L8.2 1.3" fill="none" stroke="#7a8294" stroke-width="1"/></svg>
<div class="t" style="top:472.00px;height:16px;line-height:16px;font-size:12px;color:#2f3749;left:32.80px;letter-spacing:0.60px;">MA</div>
<svg class="i" style="left:58px;top:473.5px;" width="11" height="13" viewBox="0 0 11 13"><path d="M5.5 0.8L10.2 3.5V9.5L5.5 12.2L0.8 9.5V3.5Z" fill="none" stroke="#8b93a4" stroke-width="1"/><circle cx="5.5" cy="6.5" r="1.9" fill="none" stroke="#8b93a4" stroke-width="1"/></svg>
<svg class="i" style="left:77.3px;top:475px;" width="10.5" height="10.5" viewBox="0 0 10.5 10.5"><path d="M1 1L9.5 9.5M9.5 1L1 9.5" fill="none" stroke="#8b93a4" stroke-width="1"/></svg>
<div class="t" style="top:472.00px;height:16px;line-height:16px;font-size:12px;color:#c6cbea;left:95.30px;">MA(5):40275.39</div>
<div class="t" style="top:472.00px;height:16px;line-height:16px;font-size:12px;color:#ffe92e;left:187.50px;">MA(30):37485.33</div>
<div class="t" style="top:472.00px;height:16px;line-height:16px;font-size:12px;color:#ee4fbf;left:287.00px;letter-spacing:0.05px;">MA(60):36376.19</div>
<div class="t" style="top:569.30px;height:20px;line-height:20px;font-size:14px;color:#5b6478;left:13.00px;">深度图</div>
<div class="t" style="top:569.30px;height:20px;line-height:20px;font-size:14px;color:#3b7de3;left:81.30px;">技术分析</div>
<div class="r" style="left:102px;top:590.2px;width:14px;height:3px;background:#3b82ec;"></div>
<div class="r" style="left:1px;top:595px;width:1111px;height:1px;background:#edf0f5;"></div>
<div class="t" style="top:603.20px;height:16px;line-height:16px;font-size:11px;color:#5b6478;left:13.00px;">1分钟</div>
<svg class="i" style="left:47.5px;top:609px;" width="7" height="5" viewBox="0 0 7 5"><path d="M0 0.5H7L3.5 4.5Z" fill="#8a92a3"/></svg>
<div class="t" style="top:603.20px;height:16px;line-height:16px;font-size:11px;color:#3b7de3;left:89.40px;">4小时</div>
<svg class="i" style="left:124px;top:609px;" width="7" height="5" viewBox="0 0 7 5"><path d="M0 0.5H7L3.5 4.5Z" fill="#3b7de3"/></svg>
<div class="t" style="top:603.20px;height:16px;line-height:16px;font-size:11px;color:#5b6478;left:165.00px;">1天</div>
<svg class="i" style="left:188.5px;top:609px;" width="7" height="5" viewBox="0 0 7 5"><path d="M0 0.5H7L3.5 4.5Z" fill="#8a92a3"/></svg>
<div class="t" style="top:603.20px;height:16px;line-height:16px;font-size:11px;color:#5b6478;left:241.00px;">1周</div>
<div class="r" style="left:1px;top:626px;width:1111px;height:1px;background:#edf0f5;"></div>
<div class="r" style="left:290px;top:627px;width:1px;height:162px;background:#edf0f5;"></div>
<div class="r" style="left:701px;top:627px;width:1px;height:162px;background:#edf0f5;"></div>
<div class="r" style="left:1px;top:789px;width:1111px;height:1px;background:#edf0f5;"></div>
<div class="t" style="top:636.00px;height:16px;line-height:16px;font-size:11px;color:#8a92a3;left:13.00px;">总览</div>
<div class="t" style="top:636.00px;height:16px;line-height:16px;font-size:11px;color:#8a92a3;left:181.80px;">* 以下数据仅供参考</div>
<svg class="i" style="left:0px;top:0px;" width="1112" height="802" viewBox="0 0 1112 802"><path d="M86.80 721.60A58.7 58.7 0 0 1 98.01 687.10" fill="none" stroke="#e8434f" stroke-width="6"/><path d="M98.01 687.10A58.7 58.7 0 0 1 127.36 665.77" fill="none" stroke="#e8828a" stroke-width="6"/><path d="M127.36 665.77A58.7 58.7 0 0 1 163.64 665.77" fill="none" stroke="#858b9b" stroke-width="6"/><path d="M163.64 665.77A58.7 58.7 0 0 1 192.99 687.10" fill="none" stroke="#80c6a5" stroke-width="6"/><path d="M192.99 687.10A58.7 58.7 0 0 1 204.20 721.60" fill="none" stroke="#03b57c" stroke-width="6"/><path d="M142 722.6L145.6 720.4L174 713.8L145 724.2Z" fill="#03b57c"/></svg>
<div class="t" style="top:705.30px;height:16px;line-height:16px;font-size:11px;color:#e8434f;left:28.20px;">强烈卖出</div>
<div class="t" style="top:657.50px;height:16px;line-height:16px;font-size:11px;color:#e8828a;left:76.80px;">卖出</div>
<div class="t" style="top:639.80px;height:16px;line-height:16px;font-size:11px;color:#7e8595;left:135.20px;">中立</div>
<div class="t" style="top:657.50px;height:16px;line-height:16px;font-size:11px;color:#80c6a5;left:192.60px;">买入</div>
<div class="t" style="top:705.30px;height:16px;line-height:16px;font-size:11px;color:#03b57c;left:218.60px;">强烈买入</div>
<div class="t" style="top:744.00px;height:22px;line-height:22px;font-size:16px;color:#1fb681;left:113.80px;">强烈买入</div>
<div class="r" style="left:54px;top:774px;width:6px;height:6px;background:#e8434f;"></div>
<div class="t" style="top:768.80px;height:16px;line-height:16px;font-size:12px;color:#e8434f;left:65.50px;">卖出 0</div>
<div class="r" style="left:119px;top:774px;width:6px;height:6px;background:#5b6478;"></div>
<div class="t" style="top:768.80px;height:16px;line-height:16px;font-size:12px;color:#5b6478;left:131.70px;">中立 3</div>
<div class="r" style="left:185px;top:774px;width:6px;height:6px;background:#03b57c;"></div>
<div class="t" style="top:768.80px;height:16px;line-height:16px;font-size:12px;color:#1fb681;left:197.00px;">买入 15</div>
<div class="t" style="top:641.00px;height:16px;line-height:16px;font-size:12px;color:#4a5368;left:470.60px;">枢轴点</div>
<div class="r" style="left:511.5px;top:644px;width:8.5px;height:9px;border:1px solid #9aa2b4;"></div>
<div class="t" style="top:644.20px;height:10px;line-height:10px;font-size:8px;color:#8a92a3;left:514.00px;">?</div>
<div class="t" style="top:672.00px;height:16px;line-height:16px;font-size:12px;color:#8a92a3;left:303.40px;">名称</div>
<div class="t" style="top:672.00px;height:16px;line-height:16px;font-size:12px;color:#8a92a3;right:595.50px;">经典</div>
<div class="t" style="top:672.00px;height:16px;line-height:16px;font-size:12px;color:#8a92a3;right:439.20px;">斐波那契</div>
<div class="t" style="top:697.20px;height:16px;line-height:16px;font-size:12px;color:#e8434f;left:303.20px;">R3</div>
<div class="t" style="top:697.20px;height:16px;line-height:16px;font-size:12px;color:#e8434f;right:595.00px;">49385.37</div>
<div class="t" style="top:697.20px;height:16px;line-height:16px;font-size:12px;color:#e8434f;right:438.70px;">44430.68</div>
<div class="t" style="top:725.00px;height:16px;line-height:16px;font-size:12px;color:#e8434f;left:303.20px;">R2</div>
<div class="t" style="top:725.00px;height:16px;line-height:16px;font-size:12px;color:#e8434f;right:595.00px;">44430.68</div>
<div class="t" style="top:725.00px;height:16px;line-height:16px;font-size:12px;color:#e8434f;right:438.70px;">41192.85</div>
<div class="t" style="top:752.80px;height:16px;line-height:16px;font-size:12px;color:#e8434f;left:303.20px;">R1</div>
<div class="t" style="top:752.80px;height:16px;line-height:16px;font-size:12px;color:#e8434f;right:595.00px;">40909.37</div>
<div class="t" style="top:752.80px;height:16px;line-height:16px;font-size:12px;color:#e8434f;right:438.70px;">39192.52</div>
<div class="t" style="top:780.60px;height:16px;line-height:16px;font-size:12px;color:#3d465a;left:303.20px;">P</div>
<div class="t" style="top:780.60px;height:16px;line-height:16px;font-size:12px;color:#3d465a;right:595.00px;">35954.68</div>
<div class="t" style="top:780.60px;height:16px;line-height:16px;font-size:12px;color:#3d465a;right:438.70px;">35954.68</div>
<div class="r" style="left:912px;top:635px;width:80px;height:21.7px;border:1px solid #dde0e7;"></div>
<div class="r" style="left:821px;top:635px;width:90.5px;height:21.7px;border:1px solid #3b7de3;"></div>
<div class="t" style="top:639.00px;height:16px;line-height:16px;font-size:12px;color:#3b7de3;left:837.00px;">移动平均线</div>
<div class="t" style="top:639.00px;height:16px;line-height:16px;font-size:12px;color:#3d465a;left:929.00px;">技术指标</div>
<div class="r" style="left:759px;top:671px;width:296px;height:21px;background:#f5f6f9;"></div>
<div class="t" style="top:672.70px;height:16px;line-height:16px;font-size:11px;color:#6b7386;left:771.00px;">移动平均线</div>
<div class="t" style="top:672.70px;height:16px;line-height:16px;font-size:11px;color:#1fb681;left:828.20px;">强烈买入</div>
<div class="t" style="top:672.70px;height:16px;line-height:16px;font-size:11px;color:#6b7386;left:896.20px;">卖出</div>
<div class="t" style="top:672.70px;height:16px;line-height:16px;font-size:11px;color:#e8434f;left:921.00px;">0</div>
<div class="t" style="top:672.70px;height:16px;line-height:16px;font-size:11px;color:#6b7386;left:951.20px;">中立 0</div>
<div class="t" style="top:672.70px;height:16px;line-height:16px;font-size:11px;color:#6b7386;left:1006.60px;">买入</div>
<div class="t" style="top:672.70px;height:16px;line-height:16px;font-size:11px;color:#1fb681;left:1031.00px;">14</div>
<div class="t" style="top:701.20px;height:16px;line-height:16px;font-size:12px;color:#8a92a3;right:260.30px;">标准(MA)</div>
<div class="t" style="top:701.20px;height:16px;line-height:16px;font-size:12px;color:#8a92a3;left:905.70px;">操作</div>
<div class="t" style="top:701.20px;height:16px;line-height:16px;font-size:12px;color:#8a92a3;right:91.00px;">指数(EMA)</div>
<div class="t" style="top:701.20px;height:16px;line-height:16px;font-size:12px;color:#8a92a3;left:1075.60px;">操作</div>
<div class="t" style="top:725.00px;height:16px;line-height:16px;font-size:12px;color:#8a92a3;left:714.20px;">MA5</div>
<div class="t" style="top:725.00px;height:16px;line-height:16px;font-size:12px;color:#495165;right:259.80px;">40332.49</div>
<div class="t" style="top:725.00px;height:16px;line-height:16px;font-size:12px;color:#1fb681;left:905.70px;">买入</div>
<div class="t" style="top:725.00px;height:16px;line-height:16px;font-size:12px;color:#495165;right:90.50px;">40119.74</div>
<div class="t" style="top:725.00px;height:16px;line-height:16px;font-size:12px;color:#1fb681;left:1075.60px;">买入</div>
<div class="t" style="top:753.00px;height:16px;line-height:16px;font-size:12px;color:#8a92a3;left:714.20px;">MA10</div>
<div class="t" style="top:753.00px;height:16px;line-height:16px;font-size:12px;color:#495165;right:259.80px;">39602.97</div>
<div class="t" style="top:753.00px;height:16px;line-height:16px;font-size:12px;color:#1fb681;left:905.70px;">买入</div>
<div class="t" style="top:753.00px;height:16px;line-height:16px;font-size:12px;color:#495165;right:90.50px;">39412.46</div>
<div class="t" style="top:753.00px;height:16px;line-height:16px;font-size:12px;color:#1fb681;left:1075.60px;">买入</div>
<div class="t" style="top:780.80px;height:16px;line-height:16px;font-size:12px;color:#8a92a3;left:714.20px;">MA20</div>
<div class="t" style="top:780.80px;height:16px;line-height:16px;font-size:12px;color:#495165;right:259.80px;">37561.73</div>
<div class="t" style="top:780.80px;height:16px;line-height:16px;font-size:12px;color:#1fb681;left:905.70px;">买入</div>
<div class="t" style="top:780.80px;height:16px;line-height:16px;font-size:12px;color:#495165;right:90.50px;">38366.44</div>
<div class="t" style="top:780.80px;height:16px;line-height:16px;font-size:12px;color:#1fb681;left:1075.60px;">买入</div>
<div class="r" style="left:0px;top:789px;width:1128px;height:13px;background:#fff;"></div>
<div class="r" style="left:0px;top:789px;width:1128px;height:1px;background:#edf0f5;"></div>
<div class="t" style="top:800.00px;height:18px;line-height:18px;font-size:13px;color:#3d465a;left:5.00px;font-weight:bold;">火币成交</div>
<div class="t" style="top:800.00px;height:18px;line-height:18px;font-size:13px;color:#3d465a;left:76.00px;">大单 </div>
<div class="t" style="top:800.50px;height:18px;line-height:18px;font-size:13px;color:#1fb681;left:106.00px;">↓</div>
<div class="t" style="top:800.00px;height:18px;line-height:18px;font-size:13px;color:#3d465a;left:198.00px;">挂单大</div>
<div class="t" style="top:800.00px;height:18px;line-height:18px;font-size:13px;color:#e8434f;left:276.00px;">大单挂</div>
<div class="r" style="left:0px;top:0px;width:1px;height:802px;background:#eceff4;"></div>
</body>
</html>
